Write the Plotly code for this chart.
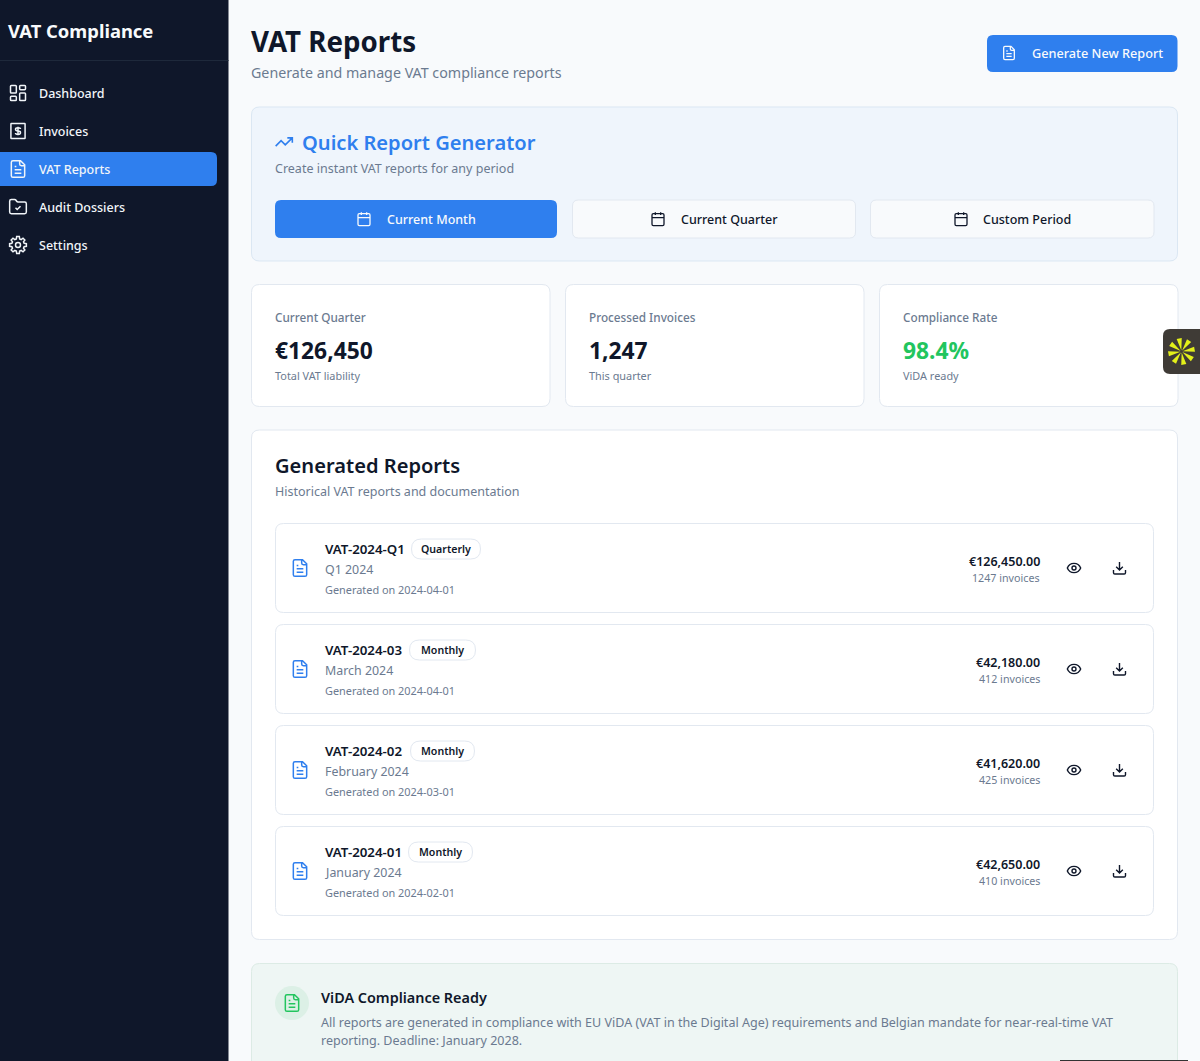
# VAT Compliance dashboard drawn with plotly shapes and annotations
import math
import re
import plotly.graph_objects as go

# _______________________________
# (I.) Page content

app_title = "VAT Compliance"
nav_labels = ["Dashboard", "Invoices", "VAT Reports", "Audit Dossiers", "Settings"]
page_title = "VAT Reports"
page_subtitle = "Generate and manage VAT compliance reports"
generate_label = "Generate New Report"

quick_title = "Quick Report Generator"
quick_subtitle = "Create instant VAT reports for any period"
quick_buttons = ["Current Month", "Current Quarter", "Custom Period"]

stat_labels = ["Current Quarter", "Processed Invoices", "Compliance Rate"]
stat_values = ["€126,450", "1,247", "98.4%"]
stat_notes = ["Total VAT liability", "This quarter", "ViDA ready"]

reports_title = "Generated Reports"
reports_subtitle = "Historical VAT reports and documentation"
report_ids = ["VAT-2024-Q1", "VAT-2024-03", "VAT-2024-02", "VAT-2024-01"]
report_types = ["Quarterly", "Monthly", "Monthly", "Monthly"]
report_periods = ["Q1 2024", "March 2024", "February 2024", "January 2024"]
report_dates = ["2024-04-01", "2024-04-01", "2024-03-01", "2024-02-01"]
report_amounts = [126450.00, 42180.00, 41620.00, 42650.00]
report_invoices = [1247, 412, 425, 410]

vida_title = "ViDA Compliance Ready"
vida_lines = [
    "All reports are generated in compliance with EU ViDA (VAT in the Digital Age) requirements and Belgian mandate for near-real-time VAT",
    "reporting. Deadline: January 2028.",
]

# _______________________________
# (II.) Colours and helpers

NAVY = "#0f172a"
BLUE = "#2f7fee"
GREY = "#6b7a90"
BORDER = "#e2e8f0"
GREEN = "#22c55e"
FONT = "Noto Sans"

shapes = []
annotations = []


def rr_path(x0, y0, x1, y1, r):
    # rounded rectangle as an svg path
    return (f"M{x0 + r} {y0}L{x1 - r} {y0}Q{x1} {y0} {x1} {y0 + r}L{x1} {y1 - r}Q{x1} {y1} {x1 - r} {y1}"
            f"L{x0 + r} {y1}Q{x0} {y1} {x0} {y1 - r}L{x0} {y0 + r}Q{x0} {y0} {x0 + r} {y0}Z")


def circle_path(cx, cy, r):
    k = 0.5523 * r
    return (f"M{cx + r} {cy}C{cx + r} {cy + k} {cx + k} {cy + r} {cx} {cy + r}"
            f"C{cx - k} {cy + r} {cx - r} {cy + k} {cx - r} {cy}"
            f"C{cx - r} {cy - k} {cx - k} {cy - r} {cx} {cy - r}"
            f"C{cx + k} {cy - r} {cx + r} {cy - k} {cx + r} {cy}Z")


def gear_path():
    pts = []
    for i in range(8):
        a = math.radians(i * 45)
        for da, r in [(-15, 7.6), (-9, 10.2), (9, 10.2), (15, 7.6)]:
            b = a + math.radians(da)
            pts.append((12 + r * math.cos(b), 12 + r * math.sin(b)))
    return "M" + "L".join(f"{x:.2f} {y:.2f}" for x, y in pts) + "Z" + circle_path(12, 12, 3)


ICON_FILE = ("M15 2L6 2Q4 2 4 4L4 20Q4 22 6 22L18 22Q20 22 20 20L20 7ZM14 2L14 6Q14 8 16 8L20 8"
             "M16 13L8 13M16 17L8 17M10 9L8 9")
ICON_CALENDAR = "M8 2L8 6M16 2L16 6M3 10L21 10" + rr_path(3, 4, 21, 22, 2)
ICON_DASHBOARD = rr_path(3, 3, 10, 12, 1) + rr_path(14, 3, 21, 8, 1) + rr_path(14, 12, 21, 21, 1) + rr_path(3, 16, 10, 21, 1)
ICON_INVOICE = (rr_path(3.5, 3, 20.5, 21, 0.5) +
                "M12 7L12 17M15 9.5C15 8 13.5 8 12 8C10 8 9 9 9 10C9 11.5 10.5 12 12 12"
                "C13.5 12 15 12.5 15 14C15 15 14 16 12 16C10.5 16 9 16 9 14.5")
ICON_FOLDER = ("M20 20Q22 20 22 18L22 8Q22 6 20 6L12.1 6Q11 6 10.4 5.1L9.6 3.9Q9 3 7.9 3L4 3Q2 3 2 5L2 18Q2 20 4 20Z"
               "M9 13L11 15L15 11")
ICON_TREND = "M22 7L13.5 15.5L8.5 10.5L2 17M16 7L22 7L22 13"
ICON_EYE = "M2 12C4 7 8 5 12 5C16 5 20 7 22 12C20 17 16 19 12 19C8 19 4 17 2 12Z" + circle_path(12, 12, 3)
ICON_DOWNLOAD = "M21 15L21 19Q21 21 19 21L5 21Q3 21 3 19L3 15M7 10L12 15L17 10M12 15L12 3"
NAV_ICONS = [ICON_DASHBOARD, ICON_INVOICE, ICON_FILE, ICON_FOLDER, gear_path()]


def box(x0, y0, x1, y1, fill, line=None, r=0):
    shapes.append(dict(type="path", path=rr_path(x0, y0, x1, y1, r), fillcolor=fill, layer="above",
                       line=dict(color=line or fill, width=1 if line else 0)))


def icon(d, cx, cy, size, color, width=1.5):
    # icons are written on a 24 box, scale them onto the page
    s = size / 24
    parts = re.findall(r"[MLCQZ]|-?[\d.]+", d)
    out = []
    n = 0
    for p in parts:
        if p.isalpha():
            out.append(p)
            n = 0
        else:
            base = cx if n % 2 == 0 else cy
            out.append(f"{base + (float(p) - 12) * s:.2f}")
            n += 1
    shapes.append(dict(type="path", path=" ".join(out), fillcolor="rgba(0,0,0,0)", layer="above",
                       line=dict(color=color, width=width)))


def label(text, x, y, size, color, weight=400, anchor="left"):
    # plotly centres on the line box, which sits about a pixel low for this font
    annotations.append(dict(text=text, x=x, y=y - 1, xref="x", yref="y", showarrow=False, xanchor=anchor,
                            yanchor="middle", borderpad=0, borderwidth=0,
                            font=dict(family=FONT, size=size, color=color, weight=weight)))


# _______________________________
# (III.) Sidebar

box(0, 0, 228.5, 1061, NAVY)
box(0, 60, 228.5, 61, "#1e293b")
label(app_title, 8, 31, 18.4, "#f8fafc", 700)
box(-8, 152, 217, 186, BLUE, r=6)
for i, name in enumerate(nav_labels):
    y = 94 + i * 38
    icon(NAV_ICONS[i], 18, y - 1, 20, "#f1f5f9", 1.5)
    label(name, 39, y, 12.5, "#f1f5f9", 500)

# _______________________________
# (IV.) Header

label(page_title, 251, 42, 27.7, NAVY, 700)
label(page_subtitle, 251, 73, 14.25, GREY)
box(987, 35, 1177.5, 72, BLUE, r=6)
icon(ICON_FILE, 1009, 53, 16, "#f8fafc", 1.3)
label(generate_label, 1032, 54, 12.7, "#f8fafc", 500)

# _______________________________
# (V.) Quick report generator

box(251.5, 107, 1177.5, 261, "#eff5fc", "#dbe7f3", r=8)
icon(ICON_TREND, 284, 142, 20, BLUE, 1.6)
label(quick_title, 301.5, 143, 20.1, BLUE, 600)
label(quick_subtitle, 275, 169, 12.5, GREY)
btn_x = [(275, 557), (572.5, 855.5), (870.5, 1154)]
icon_x = [364, 658, 961]
text_x = [387, 681, 983]
for i, name in enumerate(quick_buttons):
    active = i == 0
    box(btn_x[i][0], 200, btn_x[i][1], 238, BLUE if active else "#f8fafc", None if active else BORDER, r=6)
    color = "#f8fafc" if active else NAVY
    icon(ICON_CALENDAR, icon_x[i], 219, 16, color, 1.3)
    label(name, text_x[i], 220, 12.5, color, 500)

# _______________________________
# (VI.) Stat cards

stat_x = [251.5, 565.5, 879.5]
for i, name in enumerate(stat_labels):
    x = stat_x[i]
    box(x, 284.5, x + 298.5, 406.5, "#ffffff", BORDER, r=8)
    label(name, x + 23.5, 318, 11.75, GREY, 500)
    label(stat_values[i], x + 23.5, 351.5, 22.8, GREEN if i == 2 else NAVY, 700)
    label(stat_notes[i], x + 23.5, 376, 10.9, GREY)

# _______________________________
# (VII.) Generated reports

box(251.5, 430, 1177.5, 939.5, "#ffffff", BORDER, r=8)
label(reports_title, 275, 466, 20.1, NAVY, 600)
label(reports_subtitle, 275, 492, 12.5, GREY)
badge_x = [(411.5, 480.5), (409.5, 475.5), (410.5, 474.5), (408.5, 472.5)]
for i, rid in enumerate(report_ids):
    top = 523.5 + i * 101
    box(275.5, top, 1153.5, top + 89, "#ffffff", BORDER, r=8)
    icon(ICON_FILE, 300, top + 44.5, 20, BLUE, 1.5)
    label(rid, 324.5, top + 26.5, 13.3, NAVY, 600)
    x0, x1 = badge_x[i]
    box(x0, top + 15.5, x1, top + 35.5, "#ffffff", BORDER, r=10)
    label(report_types[i], (x0 + x1) / 2, top + 26, 10.6, NAVY, 600, "center")
    label(report_periods[i], 324.5, top + 46.5, 12.4, GREY)
    label("Generated on " + report_dates[i], 324.5, top + 66.5, 10.9, GREY)
    label(f"€{report_amounts[i]:,.2f}", 1040, top + 38.5, 12.5, NAVY, 600, "right")
    label(f"{report_invoices[i]} invoices", 1040, top + 55, 10.7, GREY, 400, "right")
    icon(ICON_EYE, 1074, top + 44.5, 16, NAVY, 1.4)
    icon(ICON_DOWNLOAD, 1119.5, top + 44.5, 16, NAVY, 1.4)

# _______________________________
# (VIII.) ViDA notice and floating tab

box(251.5, 963.5, 1177.5, 1075, "#eef6f4", "#dcebe5", r=8)
shapes.append(dict(type="path", path=circle_path(292, 1003, 17), fillcolor="#dcf0e6", layer="above", line=dict(width=0)))
icon(ICON_FILE, 292, 1003, 20, GREEN, 1.5)
label(vida_title, 320.5, 998, 14.4, NAVY, 600)
label(vida_lines[0], 320.5, 1023, 12.56, GREY)
label(vida_lines[1], 320.5, 1041, 12.56, GREY)
box(1060, 1060, 1188, 1062, "#333333")

box(1163, 329, 1210, 374, "#3f3b36", r=7)
rays = []
for i in range(8):
    a = math.radians(i * 45 - 10)
    a0, a1 = a - math.radians(11), a + math.radians(11)
    rays.append(f"M{1181.5 + math.cos(a):.2f} {351.5 + math.sin(a):.2f}"
                f"L{1181.5 + 13.5 * math.cos(a0):.2f} {351.5 + 13.5 * math.sin(a0):.2f}"
                f"L{1181.5 + 13.5 * math.cos(a1):.2f} {351.5 + 13.5 * math.sin(a1):.2f}Z")
shapes.append(dict(type="path", path="".join(rays), fillcolor="#e3ef1a", layer="above", line=dict(width=0)))

# _______________________________
# (IX.) Figure

fig = go.Figure()
fig.update_layout(
    width=1200, height=1061, margin=dict(l=0, r=0, t=0, b=0),
    paper_bgcolor="#f8fafc", plot_bgcolor="#f8fafc", showlegend=False,
    xaxis=dict(range=[0, 1200], visible=False, fixedrange=True),
    yaxis=dict(range=[1061, 0], visible=False, fixedrange=True),
    shapes=shapes, annotations=annotations,
)
fig.write_html("out.html", config={"displayModeBar": False},
               post_script="document.body.style.margin='0';document.body.style.overflow='hidden';")
